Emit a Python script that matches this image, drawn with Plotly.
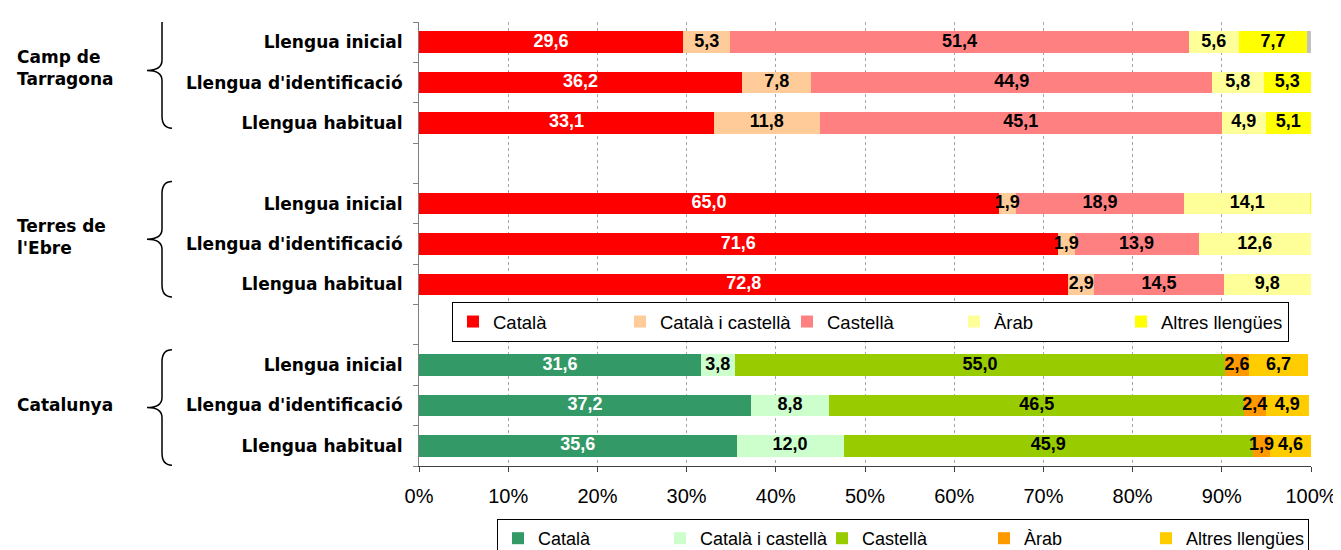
import plotly.graph_objects as go

# ---------------- data ----------------
rows = ["Llengua inicial", "Llengua d'identificació", "Llengua habitual"]
groups = ["Camp de<br>Tarragona", "Terres de<br>l'Ebre", "Catalunya"]
series = ["Català", "Català i castellà", "Castellà", "Àrab", "Altres llengües"]

camp_catala = [29.6, 36.2, 33.1]
camp_cat_cast = [5.3, 7.8, 11.8]
camp_castella = [51.4, 44.9, 45.1]
camp_arab = [5.6, 5.8, 4.9]
camp_altres = [7.7, 5.3, 5.1]
camp_sense = [0.4, 0.0, 0.0]

terres_catala = [65.0, 71.6, 72.8]
terres_cat_cast = [1.9, 1.9, 2.9]
terres_castella = [18.9, 13.9, 14.5]
terres_arab = [14.1, 12.6, 9.8]
terres_altres = [0.1, 0.0, 0.0]

cat_catala = [31.6, 37.2, 35.6]
cat_cat_cast = [3.8, 8.8, 12.0]
cat_castella = [55.0, 46.5, 45.9]
cat_arab = [2.6, 2.4, 1.9]
cat_altres = [6.7, 4.9, 4.6]

x_ticks = [0, 10, 20, 30, 40, 50, 60, 70, 80, 90, 100]

# ---------------- styles ----------------
colors_a = ["#FF0000", "#FFCC99", "#FF8080", "#FFFF99", "#FFFF00"]
colors_b = ["#339966", "#CCFFCC", "#99CC00", "#FF9900", "#FFCC00"]
text_colors = ["white", "black", "black", "black", "black"]
OFF = 8  # page body margin of the html page
W, H = 1341 - OFF, 550 - OFF
PLOT_L, PLOT_R, PLOT_T, PLOT_B = 419, 1311, 22, 466  # absolute page pixels
ML, MR, MT, MB = PLOT_L - OFF, 1341 - PLOT_R, PLOT_T - OFF, 550 - PLOT_B
PW = PLOT_R - PLOT_L
PH = PLOT_B - PLOT_T
BOLD_LBL = "DejaVu Sans"
FONT = "Liberation Sans"


def px2paper(px):
    return (px - PLOT_L) / PW


slot = 4  # rows per group incl. gap
pos_a = [g * slot + r for g in range(2) for r in range(3)]
pos_b = [2 * slot + r for r in range(3)]
all_pos = pos_a + pos_b

set_a = [camp_catala + terres_catala, camp_cat_cast + terres_cat_cast,
         camp_castella + terres_castella, camp_arab + terres_arab,
         camp_altres + terres_altres]
set_b = [cat_catala, cat_cat_cast, cat_castella, cat_arab, cat_altres]


def labels(vals):
    return [f"{v:.1f}".replace(".", ",") if v >= 1 else "" for v in vals]


fig = go.Figure()
text_traces = []


def add_set(pos, data, colors, legend_id):
    start = [0.0] * len(pos)
    for i, name in enumerate(series):
        fig.add_trace(go.Bar(
            y=pos, x=data[i], orientation="h", name=name,
            marker=dict(color=colors[i], line=dict(width=0)),
            legend=legend_id, hoverinfo="x+name"))
        mids = [s + v / 2 for s, v in zip(start, data[i])]
        text_traces.append(go.Scatter(
            x=mids, y=pos, mode="text", text=labels(data[i]),
            textposition="middle center", cliponaxis=False, showlegend=False,
            textfont=dict(family=FONT, size=18, color=text_colors[i], weight="bold"),
            hoverinfo="skip"))
        start = [s + v for s, v in zip(start, data[i])]


add_set(pos_a, set_a, colors_a, "legend")
fig.add_trace(go.Bar(
    y=pos_a[:3], x=camp_sense, orientation="h", name="Sense dades",
    marker=dict(color="#C0C0C0", line=dict(width=0)), showlegend=False, hoverinfo="x"))
add_set(pos_b, set_b, colors_b, "legend2")
for t in text_traces:
    fig.add_trace(t)

# braces + group labels
shapes = []
annotations = []
x_end, x_stem, x_tip = px2paper(172), px2paper(162), px2paper(147)
half = 1.43
r = 0.3
group_shift = [-0.3, -0.12, 0.05]
label_shift = [-0.37, -0.17, 0.0]
for g, lab in enumerate(groups):
    c = g * slot + 1 + group_shift[g]
    top, bot = c - half, c + half
    path = (f"M {x_end},{top} Q {x_stem},{top} {x_stem},{top + r} "
            f"L {x_stem},{c - 0.25} Q {x_stem},{c} {x_tip},{c} "
            f"Q {x_stem},{c} {x_stem},{c + 0.25} "
            f"L {x_stem},{bot - r} Q {x_stem},{bot} {x_end},{bot}")
    shapes.append(dict(type="path", path=path, xref="paper", yref="y",
                       line=dict(color="black", width=1.5)))
    annotations.append(dict(text=lab, x=px2paper(15), xref="paper", xanchor="left",
                            y=g * slot + 1 + label_shift[g], yref="y", yanchor="middle",
                            align="left", showarrow=False,
                            font=dict(family=BOLD_LBL, size=17, color="black", weight="bold")))

boundaries = [p - 0.5 for p in range(11)] + [10.5]

fig.update_layout(
    width=W, height=H, margin=dict(l=ML, r=MR, t=MT, b=MB, autoexpand=False),
    paper_bgcolor="white", plot_bgcolor="white",
    barmode="stack", bargap=0.47,
    shapes=shapes, annotations=annotations,
    xaxis=dict(range=[0, 100], tickvals=x_ticks, ticktext=[f"{v}%" for v in x_ticks],
               showgrid=True, gridcolor="#A6A6A6", griddash="dot", gridwidth=1,
               showline=True, linecolor="#404040", linewidth=1,
               ticks="outside", ticklen=5, tickcolor="#404040", ticklabelstandoff=7,
               tickfont=dict(family=FONT, size=20, color="black"),
               zeroline=False, fixedrange=True, automargin=False),
    yaxis=dict(range=[10.5, -0.5], tickvals=all_pos, ticktext=rows * 3,
               showgrid=False, zeroline=False,
               showline=True, linecolor="#808080", linewidth=1,
               ticks="", ticklabelstandoff=12,
               minor=dict(tickmode="array", tickvals=boundaries, ticks="outside",
                          ticklen=5, tickcolor="#808080", showgrid=False),
               tickfont=dict(family=BOLD_LBL, size=17, color="black", weight="bold"),
               fixedrange=True, automargin=False),
    legend=dict(orientation="h", x=px2paper(452), xanchor="left",
                y=(PLOT_B - 302) / PH, yanchor="top",
                bgcolor="white", bordercolor="black", borderwidth=1,
                font=dict(family=FONT, size=18.5, color="black"),
                entrywidth=122, entrywidthmode="pixels", traceorder="normal"),
    legend2=dict(orientation="h", x=px2paper(497), xanchor="left",
                 yref="container", y=1 - (519 - OFF) / H, yanchor="top",
                 bgcolor="white", bordercolor="black", borderwidth=1,
                 font=dict(family=FONT, size=18, color="black"),
                 entrywidth=117, entrywidthmode="pixels", traceorder="normal"),
    showlegend=True,
)

fig.write_html("out.html")
